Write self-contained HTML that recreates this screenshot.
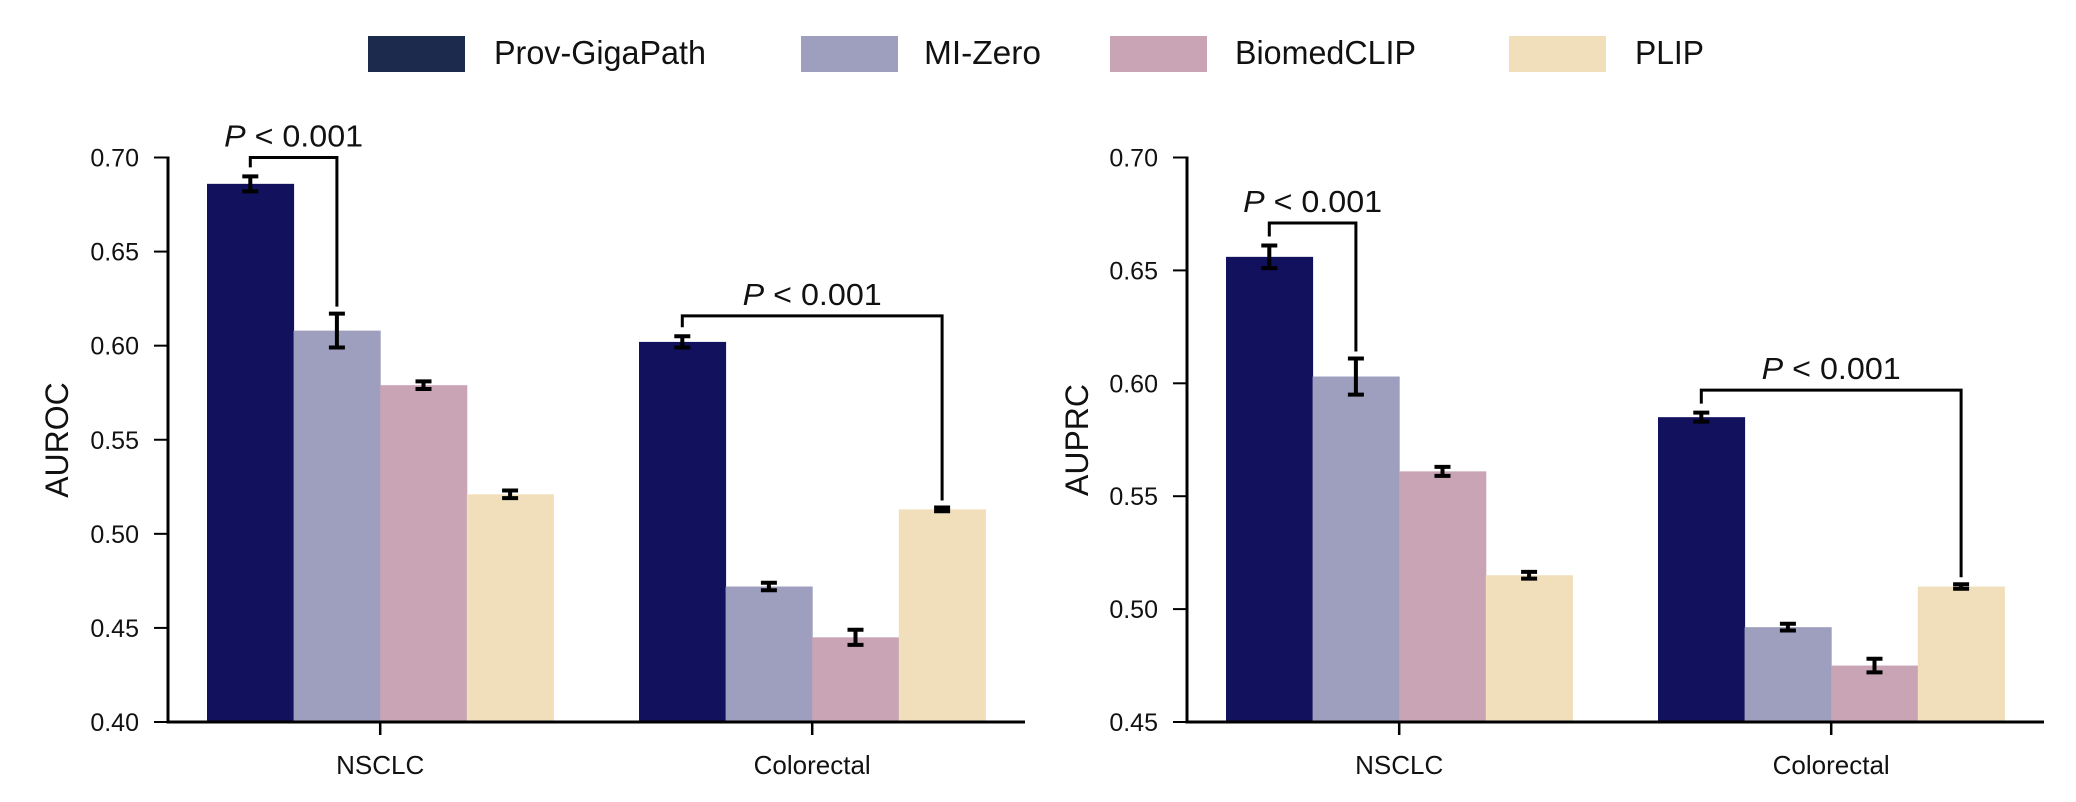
<!DOCTYPE html>
<html><head><meta charset="utf-8"><style>
html,body{margin:0;padding:0;background:#fff;}
svg{display:block;font-family:"Liberation Sans",sans-serif;}
</style></head><body>
<svg id="chart" width="2076" height="802" viewBox="0 0 2076 802" xmlns="http://www.w3.org/2000/svg">
<g id="legend"></g>
<g id="left"></g>
<g id="right"></g>
</svg>
<script>
const models = ["Prov-GigaPath","MI-Zero","BiomedCLIP","PLIP"];
const colors = ["#12115e","#9e9fbe","#c9a4b4","#f1dfbb"];
const categories = ["NSCLC","Colorectal"];
const aurocNSCLC = [0.686,0.608,0.579,0.521];
const aurocNSCLCErr = [0.004,0.009,0.002,0.002];
const aurocCRC = [0.602,0.472,0.445,0.513];
const aurocCRCErr = [0.003,0.002,0.004,0.001];
const auprcNSCLC = [0.656,0.603,0.561,0.515];
const auprcNSCLCErr = [0.005,0.008,0.002,0.0015];
const auprcCRC = [0.585,0.492,0.475,0.510];
const auprcCRCErr = [0.002,0.0015,0.003,0.001];
const aurocTicks = [0.40,0.45,0.50,0.55,0.60,0.65,0.70];
const auprcTicks = [0.45,0.50,0.55,0.60,0.65,0.70];
const aurocBrackets = [[0,0,1,0.700],[1,0,3,0.6158]];
const auprcBrackets = [[0,0,1,0.671],[1,0,3,0.597]];
const pLabel = "< 0.001";

const NS="http://www.w3.org/2000/svg";
function mk(tag,attrs,parent){const e=document.createElementNS(NS,tag);for(const k in attrs)e.setAttribute(k,attrs[k]);parent.appendChild(e);return e;}

// legend
const lg=document.getElementById('legend');
const legRect=[368,801,1110,1509], legText=[494,924,1235,1635], legW=[212,117,181,69];
models.forEach((m,i)=>{
  const r=mk('rect',{x:legRect[i],y:36,width:97,height:36,fill:i==0?"#1c2a4e":colors[i]},lg);
  
  
  const t=mk('text',{x:legText[i],y:64,'font-size':33,fill:'#111',textLength:legW[i],lengthAdjust:'spacingAndGlyphs'},lg);
  t.textContent=m;
  
  
});

function panel(g,cfg){
  const top=157.5,bot=722;
  const y=v=>bot-(v-cfg.min)/(cfg.max-cfg.min)*(bot-top);
  const bw=86.6;
  const series=[cfg.vals0,cfg.vals1], errs=[cfg.err0,cfg.err1];
  const centers=[];
  categories.forEach((c,ci)=>{
    centers.push([]);
    series[ci].forEach((v,i)=>{
      const x=cfg.g0[ci]+i*bw;
      const b=mk('rect',{x:x,y:y(v),width:bw+0.5,height:bot-y(v),fill:colors[i]},g);
      
      
      const cx=x+bw/2; centers[ci].push(cx);
      const e=errs[ci][i];
      const eb=mk('path',{d:`M${cx} ${y(v+e)}V${y(v-e)}M${cx-8} ${y(v+e)}H${cx+8}M${cx-8} ${y(v-e)}H${cx+8}`,stroke:'#000','stroke-width':4,fill:'none'},g);
      
      
    });
  });
  const ax=mk('path',{d:`M${cfg.ax} ${top-1}V${bot}H${cfg.axEnd}`,stroke:'#000','stroke-width':3,fill:'none'},g);
  
  
  cfg.ticks.forEach(t=>{
    mk('line',{x1:cfg.ax-14,x2:cfg.ax,y1:y(t),y2:y(t),stroke:'#000','stroke-width':2},g);
    const tl=mk('text',{x:cfg.ax-29,y:y(t)+9,'font-size':25,'text-anchor':'end',fill:'#111'},g);
    tl.textContent=t.toFixed(2);
    
    
  });
  categories.forEach((c,ci)=>{
    const cx=cfg.g0[ci]+2*bw;
    mk('line',{x1:cx,x2:cx,y1:bot,y2:bot+13,stroke:'#000','stroke-width':2.5},g);
    const cl=mk('text',{x:cx,y:774,'font-size':26,'text-anchor':'middle',fill:'#111'},g);
    cl.textContent=c;
    
    
  });
  const yl=mk('text',{x:0,y:0,'font-size':32,'text-anchor':'middle',fill:'#111',transform:`translate(${cfg.ylx},440) rotate(-90)`},g);
  yl.textContent=cfg.label;
  
  
  cfg.brackets.forEach(([ci,a,b,lv])=>{
    const xa=centers[ci][a], xb=centers[ci][b], yb=y(lv);
    const ya=y(series[ci][a]+errs[ci][a])-9, yb2=y(series[ci][b]+errs[ci][b])-7;
    const br=mk('path',{d:`M${xa} ${ya}V${yb}H${xb}V${yb2}`,stroke:'#000','stroke-width':3,fill:'none'},g);
    
    
    const t=mk('text',{x:(xa+xb)/2,y:yb-11,'font-size':31,'text-anchor':'middle',fill:'#111',textLength:139,lengthAdjust:'spacingAndGlyphs'},g);
    const ts=mk('tspan',{'font-style':'italic'},t); ts.textContent='P';
    const t2=mk('tspan',{},t); t2.textContent=' '+pLabel;
    
    
  });
}
panel(document.getElementById('left'),{min:0.40,max:0.70,ticks:aurocTicks,vals0:aurocNSCLC,err0:aurocNSCLCErr,vals1:aurocCRC,err1:aurocCRCErr,g0:[207,639],ax:168,axEnd:1025,ylx:68,label:'AUROC',brackets:aurocBrackets});
panel(document.getElementById('right'),{min:0.45,max:0.70,ticks:auprcTicks,vals0:auprcNSCLC,err0:auprcNSCLCErr,vals1:auprcCRC,err1:auprcCRCErr,g0:[1226,1658],ax:1187,axEnd:2044,ylx:1088,label:'AUPRC',brackets:auprcBrackets});
</script>
</body></html>
